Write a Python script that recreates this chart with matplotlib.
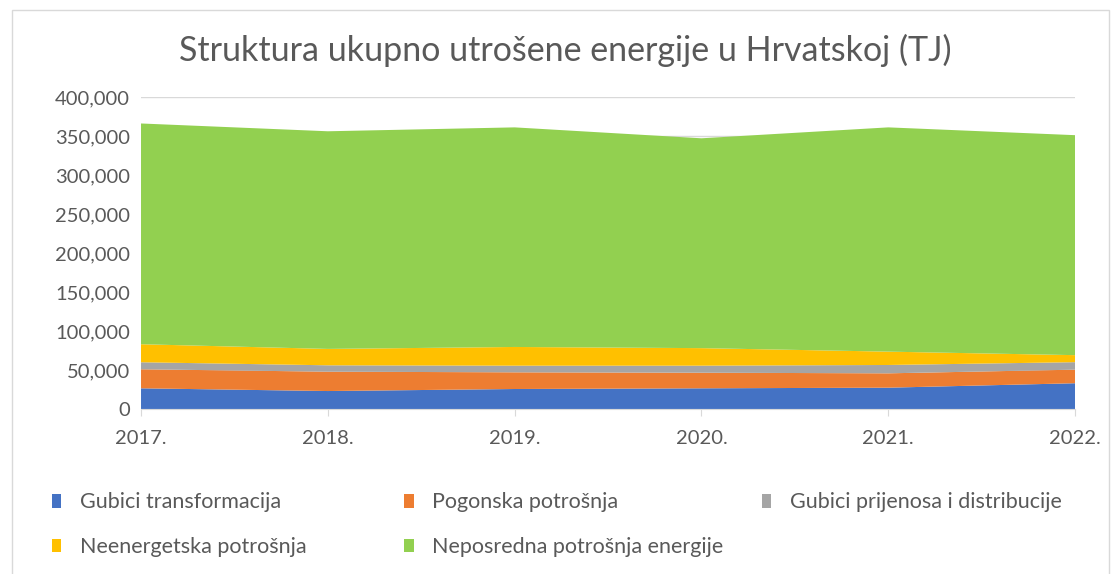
import numpy as np
import matplotlib.pyplot as plt
from matplotlib.patches import Patch, Rectangle
from matplotlib.ticker import FuncFormatter

plt.rcParams['font.family'] = ['Lato', 'DejaVu Sans']

years = ["2017.", "2018.", "2019.", "2020.", "2021.", "2022."]
gubici_transformacija = [26500, 23000, 25600, 26500, 27300, 33000]
pogonska_potrosnja = [24400, 24800, 21400, 20000, 18400, 17400]
gubici_prijenosa = [9000, 8200, 8500, 9000, 10700, 9600]
neenergetska_potrosnja = [23100, 21000, 24000, 22500, 17100, 9000]
neposredna_potrosnja = [283000, 279000, 281500, 269000, 287500, 282000]

labels = ["Gubici transformacija", "Pogonska potrošnja", "Gubici prijenosa i distribucije",
          "Neenergetska potrošnja", "Neposredna potrošnja energije"]
colors = ["#4472C4", "#ED7D31", "#A5A5A5", "#FFC000", "#92D050"]
text_col = "#595959"

fig = plt.figure(figsize=(11.13, 5.74), dpi=100)
fig.patches.append(Rectangle((0.011, -0.01), 0.985, 0.993, transform=fig.transFigure,
                             fill=False, edgecolor="#d9d9d9", linewidth=1))
ax = fig.add_axes([0.1267, 0.2875, 0.8392, 0.5436])

x = np.arange(len(years))
series = [gubici_transformacija, pogonska_potrosnja, gubici_prijenosa,
          neenergetska_potrosnja, neposredna_potrosnja]
ax.stackplot(x, *series, colors=colors, linewidth=0, zorder=2)

ax.set_xlim(0, len(years) - 1)
ax.set_ylim(0, 400000)
ax.set_yticks(np.arange(0, 400001, 50000))
ax.yaxis.set_major_formatter(FuncFormatter(lambda v, p: "{:,.0f}".format(v)))
ax.set_xticks(x)
ax.set_xticklabels(years)
ax.grid(axis="y", color="#d9d9d9", linewidth=1, zorder=0)
ax.set_axisbelow(True)
for s in ["top", "right", "left"]:
    ax.spines[s].set_visible(False)
ax.spines["bottom"].set_color("#d9d9d9")
ax.tick_params(axis="y", length=0, labelsize=14.5, labelcolor=text_col, pad=8)
ax.tick_params(axis="x", length=5, color="#d9d9d9", labelsize=14.5, labelcolor=text_col, pad=10)

fig.text(0.508, 0.912, "Struktura ukupno utrošene energije u Hrvatskoj (TJ)",
         ha="center", va="center", fontsize=24.5, color=text_col)

handles = [Patch(facecolor=c, edgecolor="none") for c in colors]
columns = [([0, 3], 0.029), ([1, 4], 0.346), ([2], 0.667)]
for idx, xpos in columns:
    leg = fig.legend([handles[i] for i in idx], [labels[i] for i in idx],
                     loc="upper left", bbox_to_anchor=(xpos, 0.176), frameon=False,
                     handlelength=0.45, handleheight=0.6, handletextpad=0.85,
                     labelspacing=1.15, fontsize=15.5, labelcolor=text_col)

fig.savefig("out.png", dpi=100)
